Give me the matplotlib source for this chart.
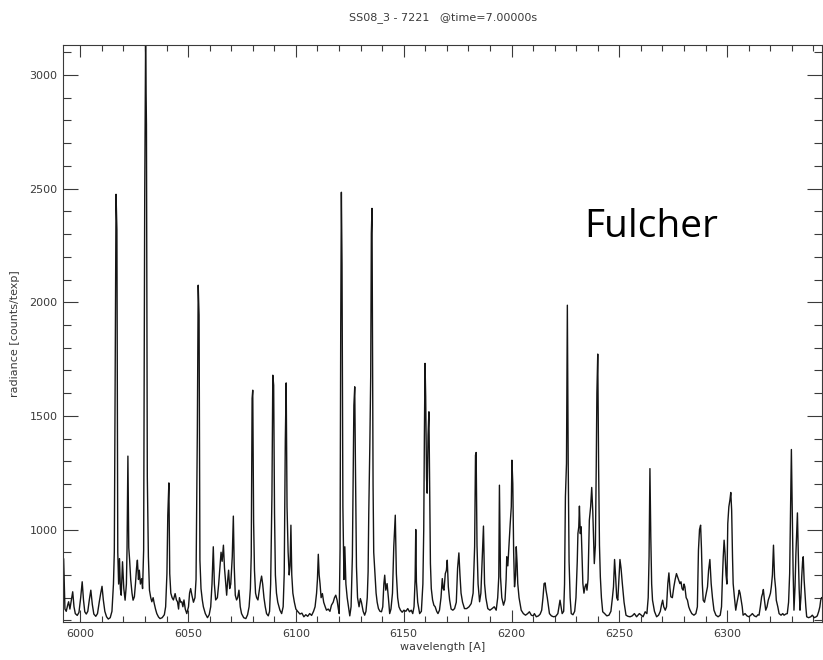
import matplotlib.pyplot as plt
from matplotlib.ticker import MultipleLocator, FixedLocator

# spectrum (wavelength in A, radiance in counts/texp)
wavelength = [
    5992.3, 5992.9, 5993.5, 5994.1, 5994.6, 5995.2, 5995.9, 5996.5, 5997.1, 5997.7,
    5998.6, 5999.4, 6000.2, 6000.9, 6001.5, 6002.1, 6002.8, 6003.5, 6004.2, 6004.9,
    6005.6, 6006.3, 6007.2, 6008.0, 6008.8, 6009.5, 6010.1, 6010.7, 6011.4, 6012.2,
    6013.0, 6013.9, 6014.7, 6015.4, 6015.8, 6016.2, 6016.6, 6017.0, 6017.4, 6017.8,
    6018.2, 6018.6, 6019.0, 6019.6, 6020.2, 6020.8, 6021.4, 6021.7, 6022.1, 6022.5,
    6022.9, 6023.4, 6024.0, 6024.5, 6025.1, 6025.6, 6026.1, 6026.5, 6027.0, 6027.4,
    6027.9, 6028.5, 6028.9, 6029.4, 6029.9, 6030.3, 6030.7, 6031.1, 6031.6, 6032.1,
    6032.7, 6033.2, 6033.8, 6034.3, 6034.9, 6035.5, 6036.3, 6037.0, 6038.0, 6039.0,
    6039.6, 6040.2, 6040.6, 6041.1, 6041.5, 6042.0, 6042.6, 6043.2, 6044.0, 6044.6,
    6045.1, 6045.6, 6046.0, 6046.6, 6047.1, 6047.6, 6048.1, 6048.7, 6049.4, 6050.2,
    6050.7, 6051.2, 6051.8, 6052.5, 6053.2, 6053.7, 6054.3, 6054.7, 6055.1, 6055.5,
    6056.0, 6056.6, 6057.1, 6058.0, 6059.0, 6059.8, 6060.5, 6061.1, 6061.7, 6062.2,
    6062.8, 6063.6, 6064.2, 6064.8, 6065.3, 6065.8, 6066.4, 6066.9, 6067.4, 6067.9,
    6068.4, 6068.8, 6069.3, 6069.8, 6070.5, 6071.0, 6071.4, 6071.9, 6072.5, 6073.0,
    6073.6, 6074.2, 6074.8, 6075.8, 6076.8, 6077.6, 6078.3, 6078.9, 6079.3, 6079.7,
    6080.0, 6080.4, 6080.8, 6081.3, 6081.8, 6082.4, 6083.0, 6083.6, 6084.1, 6084.6,
    6085.2, 6085.8, 6086.4, 6087.2, 6087.8, 6088.3, 6088.9, 6089.3, 6089.7, 6090.1,
    6090.5, 6091.0, 6091.6, 6092.6, 6093.4, 6094.1, 6094.6, 6095.1, 6095.5, 6095.9,
    6096.4, 6096.9, 6097.3, 6097.7, 6098.1, 6098.6, 6099.3, 6100.0, 6100.8, 6101.9,
    6102.8, 6103.7, 6104.6, 6105.5, 6106.4, 6107.3, 6108.2, 6108.9, 6109.6, 6110.0,
    6110.4, 6110.8, 6111.2, 6111.7, 6112.3, 6112.9, 6113.6, 6114.2, 6115.0, 6115.8,
    6116.5, 6117.3, 6117.9, 6118.5, 6119.1, 6119.7, 6120.1, 6120.5, 6120.8, 6121.1,
    6121.4, 6121.8, 6122.3, 6122.7, 6123.2, 6123.8, 6124.4, 6125.0, 6125.6, 6126.2,
    6126.9, 6127.3, 6127.6, 6128.1, 6128.6, 6129.3, 6129.9, 6130.4, 6131.2, 6131.9,
    6132.5, 6133.1, 6133.5, 6133.8, 6134.3, 6134.7, 6135.0, 6135.3, 6135.8, 6136.1,
    6136.7, 6137.2, 6137.7, 6138.3, 6139.0, 6139.7, 6140.3, 6140.8, 6141.2, 6141.7,
    6142.3, 6142.9, 6143.5, 6144.1, 6144.8, 6145.4, 6146.1, 6146.6, 6147.2, 6147.8,
    6148.5, 6149.3, 6150.1, 6151.0, 6151.9, 6152.7, 6153.5, 6154.2, 6154.8, 6155.3,
    6155.6, 6155.9, 6156.5, 6157.4, 6158.2, 6158.9, 6159.3, 6159.6, 6159.9, 6160.2,
    6160.6, 6160.9, 6161.3, 6161.7, 6162.0, 6162.4, 6162.8, 6163.4, 6164.0, 6164.6,
    6165.3, 6165.9, 6166.6, 6167.3, 6167.9, 6168.3, 6168.7, 6169.3, 6169.8, 6170.2,
    6170.7, 6171.3, 6172.0, 6172.8, 6173.6, 6174.4, 6175.0, 6175.6, 6176.1, 6176.6,
    6177.3, 6178.2, 6179.2, 6180.3, 6181.3, 6182.2, 6182.9, 6183.3, 6183.6, 6184.0,
    6184.5, 6185.2, 6185.8, 6186.4, 6187.0, 6187.5, 6188.1, 6189.0, 6190.0, 6191.0,
    6192.0, 6192.9, 6193.6, 6194.1, 6194.4, 6194.9, 6195.5, 6196.3, 6197.0, 6197.5,
    6197.8, 6198.3, 6198.8, 6199.4, 6199.9, 6200.2, 6200.6, 6201.0, 6201.4, 6201.9,
    6202.2, 6202.6, 6202.9, 6203.5, 6204.5, 6205.5, 6206.5, 6207.5, 6208.3, 6209.2,
    6210.1, 6210.6, 6211.5, 6212.5, 6213.3, 6214.0, 6214.6, 6215.1, 6215.6, 6216.0,
    6216.6, 6217.6, 6218.5, 6219.5, 6220.5, 6221.5, 6222.0, 6222.5, 6223.0, 6223.5,
    6224.2, 6224.6, 6225.0, 6225.5, 6225.9, 6226.3, 6226.7, 6227.2, 6227.7, 6228.5,
    6229.3, 6229.9, 6230.5, 6230.8, 6231.2, 6231.5, 6231.9, 6232.3, 6232.7, 6233.1,
    6233.6, 6234.1, 6234.6, 6235.0, 6235.5, 6236.1, 6236.7, 6237.2, 6237.7, 6238.1,
    6238.4, 6238.9, 6239.3, 6239.6, 6240.0, 6240.4, 6240.8, 6241.2, 6241.7, 6242.3,
    6243.2, 6244.2, 6245.2, 6246.1, 6246.8, 6247.3, 6247.8, 6248.3, 6248.8, 6249.3,
    6249.8, 6250.3, 6250.8, 6251.4, 6252.2, 6253.1, 6254.0, 6255.0, 6256.0, 6257.0,
    6258.0, 6259.3, 6260.2, 6261.0, 6262.0, 6262.8, 6263.4, 6263.8, 6264.2, 6264.6,
    6265.0, 6265.4, 6266.3, 6267.3, 6268.2, 6269.0, 6269.6, 6270.1, 6270.6, 6271.3,
    6271.9, 6272.5, 6273.0, 6273.5, 6273.9, 6274.6, 6275.3, 6275.9, 6276.5, 6277.1,
    6277.6, 6278.1, 6278.6, 6279.1, 6279.6, 6280.0, 6280.4, 6281.0, 6281.6, 6282.2,
    6282.8, 6283.6, 6284.6, 6285.5, 6286.2, 6286.7, 6287.2, 6287.7, 6288.1, 6288.5,
    6288.9, 6289.5, 6290.3, 6290.9, 6291.4, 6292.0, 6292.6, 6293.2, 6293.9, 6294.8,
    6295.8, 6296.8, 6297.4, 6297.8, 6298.2, 6298.6, 6299.0, 6299.5, 6299.9, 6300.3,
    6300.8, 6301.3, 6301.7, 6302.1, 6302.5, 6302.8, 6303.4, 6304.0, 6304.6, 6305.1,
    6305.6, 6306.0, 6306.5, 6307.0, 6307.4, 6308.3, 6309.2, 6310.1, 6311.0, 6311.7,
    6312.6, 6313.5, 6314.3, 6314.8, 6315.4, 6316.0, 6316.5, 6316.8, 6317.3, 6317.9,
    6318.5, 6319.1, 6319.6, 6320.1, 6320.5, 6321.0, 6321.5, 6322.0, 6322.5, 6322.8,
    6323.5, 6324.1, 6325.0, 6325.8, 6326.4, 6327.2, 6327.9, 6328.5, 6329.0, 6329.4,
    6329.8, 6330.2, 6330.6, 6331.0, 6331.5, 6331.9, 6332.3, 6332.6, 6333.0, 6333.4,
    6333.8, 6334.2, 6334.6, 6335.0, 6335.3, 6335.7, 6336.0, 6336.5, 6336.9, 6337.8,
    6338.8, 6339.5, 6340.4, 6341.3, 6341.8, 6342.5, 6343.0, 6343.4, 6343.8,
]

radiance = [
    870, 650, 640, 665, 682, 650, 690, 726, 660, 630,
    622, 635, 700, 770, 690, 638, 628, 640, 690, 733,
    670, 628, 618, 630, 680, 720, 750, 690, 640, 616,
    606, 612, 640, 760, 902, 1694, 2475, 2320, 900, 760,
    872, 740, 711, 858, 740, 689, 760, 916, 1323, 920,
    865, 780, 720, 689, 704, 760, 830, 865, 780, 821,
    760, 784, 740, 909, 2470, 3132, 2780, 1232, 880, 733,
    700, 682, 700, 675, 650, 630, 615, 608, 612, 625,
    660, 806, 1063, 1205, 806, 720, 700, 690, 718, 690,
    682, 650, 700, 680, 682, 660, 690, 650, 630, 660,
    720, 740, 710, 680, 700, 780, 1430, 2075, 1943, 865,
    740, 690, 660, 630, 612, 625, 660, 760, 924, 760,
    690, 700, 760, 840, 900, 860, 931, 830, 770, 711,
    780, 821, 740, 760, 880, 1059, 840, 711, 690, 700,
    733, 660, 630, 612, 608, 625, 660, 740, 887, 1577,
    1613, 1034, 820, 720, 700, 690, 730, 770, 795, 760,
    700, 660, 630, 620, 640, 760, 1151, 1679, 1635, 1070,
    800, 720, 680, 645, 630, 660, 806, 1393, 1645, 1100,
    902, 800, 840, 1019, 800, 720, 680, 650, 640, 628,
    632, 616, 625, 618, 630, 622, 640, 660, 720, 780,
    891, 800, 762, 700, 718, 680, 660, 645, 650, 640,
    667, 680, 700, 711, 690, 650, 630, 916, 1885, 2484,
    2171, 1100, 780, 924, 760, 700, 660, 620, 660, 880,
    1547, 1628, 1305, 836, 700, 660, 696, 680, 640, 623,
    640, 700, 814, 1070, 1371, 1672, 2303, 2413, 1195, 900,
    806, 720, 680, 652, 640, 638, 660, 760, 799, 733,
    762, 700, 630, 650, 720, 924, 1063, 806, 700, 660,
    645, 636, 645, 640, 652, 638, 645, 630, 660, 780,
    1000, 770, 680, 630, 640, 760, 1000, 1415, 1731, 1584,
    1224, 1160, 1415, 1518, 1224, 850, 740, 690, 667, 660,
    640, 630, 645, 700, 784, 740, 733, 806, 820, 865,
    748, 690, 650, 645, 652, 680, 830, 897, 800, 720,
    680, 652, 652, 660, 674, 720, 924, 1327, 1339, 931,
    760, 682, 720, 872, 1015, 762, 700, 652, 645, 652,
    660, 645, 700, 792, 1195, 792, 700, 667, 690, 780,
    880, 840, 924, 1026, 1100, 1305, 1202, 900, 748, 800,
    924, 850, 762, 700, 645, 630, 623, 630, 638, 623,
    620, 630, 616, 620, 628, 645, 700, 762, 765, 733,
    700, 630, 620, 616, 618, 630, 660, 689, 660, 630,
    640, 760, 1144, 1290, 1987, 1290, 860, 700, 630, 625,
    640, 700, 860, 982, 1012, 1103, 982, 1012, 880, 762,
    720, 748, 760, 733, 780, 1041, 1100, 1185, 1078, 940,
    850, 930, 1276, 1600, 1772, 1276, 930, 792, 700, 638,
    630, 620, 623, 640, 700, 748, 868, 790, 700, 689,
    780, 868, 830, 762, 680, 623, 618, 616, 620, 630,
    616, 630, 623, 616, 638, 630, 700, 880, 1268, 968,
    760, 689, 640, 616, 623, 640, 670, 689, 660, 645,
    660, 762, 809, 740, 704, 700, 748, 780, 806, 790,
    777, 762, 770, 740, 733, 760, 748, 700, 689, 660,
    645, 630, 623, 630, 660, 909, 1000, 1019, 916, 760,
    689, 680, 720, 748, 820, 868, 762, 700, 645, 623,
    616, 623, 660, 780, 880, 953, 900, 800, 760, 1026,
    1100, 1130, 1163, 1085, 880, 762, 700, 645, 680, 704,
    733, 720, 689, 660, 623, 630, 620, 616, 623, 630,
    620, 616, 625, 623, 660, 704, 720, 736, 690, 645,
    660, 690, 704, 720, 748, 800, 931, 790, 740, 689,
    660, 630, 623, 630, 623, 628, 630, 680, 806, 1085,
    1352, 1085, 820, 645, 750, 894, 1000, 1073, 894, 740,
    645, 700, 792, 860, 880, 780, 733, 660, 616, 612,
    616, 623, 612, 616, 620, 640, 660, 689, 700,
]

x_ticks = [6000, 6050, 6100, 6150, 6200, 6250, 6300]
y_ticks = [1000, 1500, 2000, 2500, 3000]
title = "SS08_3 - 7221   @time=7.00000s"
x_label = "wavelength [A]"
y_label = "radiance [counts/texp]"
note = "Fulcher"

grey = "#3a3a3a"

fig = plt.figure(figsize=(8.23, 6.60), dpi=100)
ax = fig.add_axes([63 / 823, 38 / 660, 759 / 823, 577 / 660])

ax.plot(wavelength, radiance, color="#151515", lw=1.0)

ax.set_xlim(5992, 6344)
ax.set_ylim(593, 3132)

ax.xaxis.set_major_locator(FixedLocator(x_ticks))
ax.xaxis.set_minor_locator(MultipleLocator(10))
ax.yaxis.set_major_locator(FixedLocator(y_ticks))
ax.yaxis.set_minor_locator(MultipleLocator(100))

ax.tick_params(axis="x", which="major", direction="in", length=8.3, width=0.8,
               top=True, bottom=True, labelsize=8, labelcolor=grey, pad=5, color=grey)
ax.tick_params(axis="x", which="minor", direction="in", length=4.2, width=0.8,
               top=True, bottom=True, color=grey)
ax.tick_params(axis="y", which="major", direction="in", length=10.9, width=0.8,
               left=True, right=True, labelsize=8, labelcolor=grey, pad=4, color=grey)
ax.tick_params(axis="y", which="minor", direction="in", length=5.5, width=0.8,
               left=True, right=True, color=grey)

for s in ax.spines.values():
    s.set_color(grey)
    s.set_linewidth(0.8)

ax.set_xlabel(x_label, fontsize=8, color=grey, labelpad=2)
ax.set_ylabel(y_label, fontsize=8, color=grey, labelpad=7)
fig.text(443 / 823, 1 - 18 / 660, title, ha="center", va="center", fontsize=8, color=grey)

ax.text(6233.8, 2286, note, fontsize=28, family="Open Sans", color="black",
        ha="left", va="baseline")

fig.savefig("out.png", dpi=100)
